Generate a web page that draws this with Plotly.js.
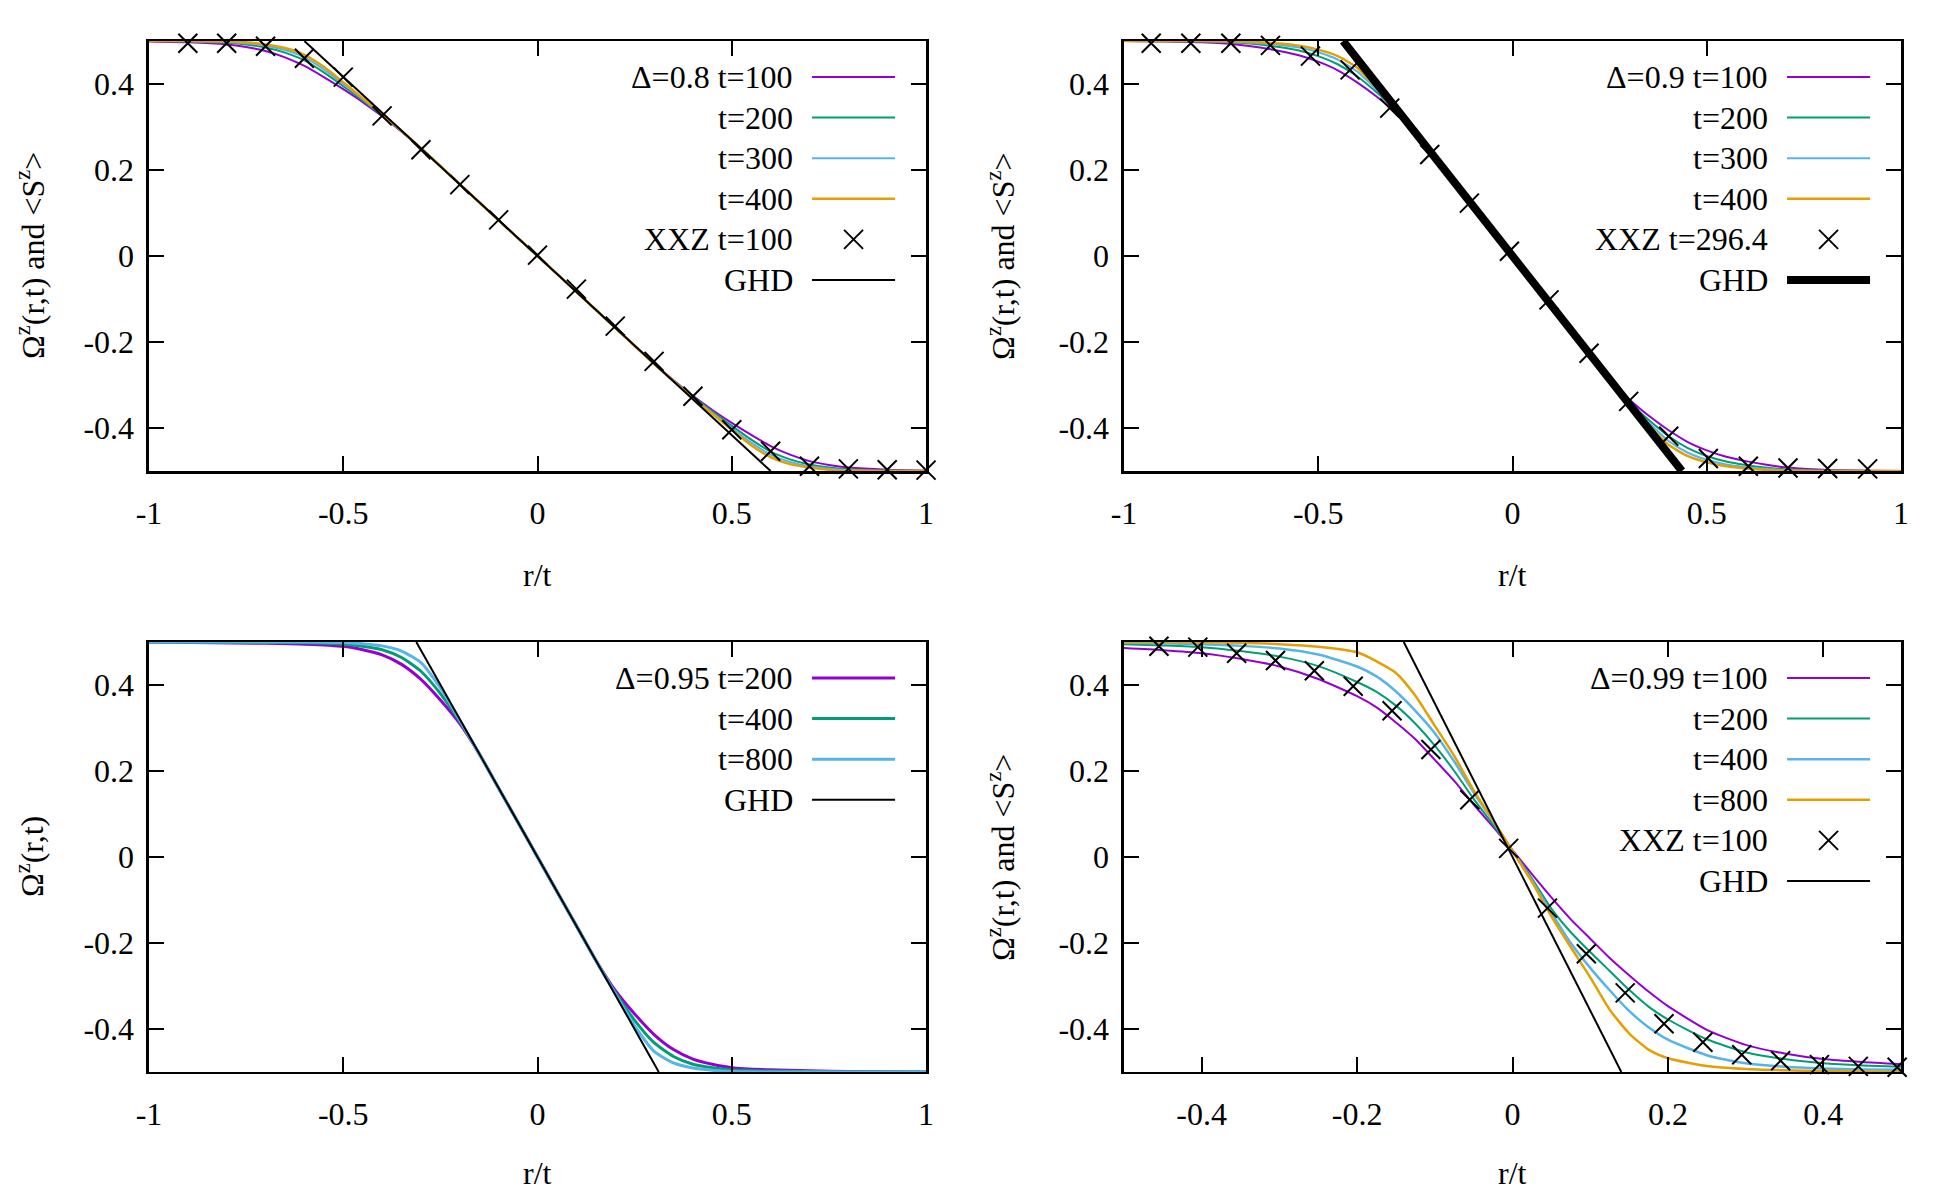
<!DOCTYPE html>
<html>
<head>
<meta charset="utf-8">
<script src="https://cdn.plot.ly/plotly-3.0.1.min.js"></script>
<style>html,body{margin:0;padding:0;background:#fff;}#chart{width:1950px;height:1200px;}</style>
</head>
<body>
<div id="chart"></div>
<script>
// ---------- Panel A : Delta = 0.8 ----------
const xA = [-1, -0.9, -0.8, -0.75, -0.7, -0.65, -0.6, -0.55, -0.5, -0.45, -0.4, -0.35, -0.3, -0.2, -0.1, 0, 0.1, 0.2, 0.3, 0.35, 0.4, 0.45, 0.5, 0.55, 0.6, 0.65, 0.7, 0.75, 0.8, 0.9, 1];
const yA_t100 = [0.499, 0.497, 0.492, 0.486, 0.477, 0.462, 0.442, 0.416, 0.388, 0.358, 0.325, 0.289, 0.25, 0.167, 0.083, 0, -0.083, -0.167, -0.25, -0.289, -0.325, -0.358, -0.388, -0.416, -0.442, -0.462, -0.477, -0.486, -0.492, -0.497, -0.499];
const yA_t200 = [0.5, 0.499, 0.496, 0.492, 0.485, 0.473, 0.455, 0.427, 0.395, 0.362, 0.327, 0.29, 0.251, 0.167, 0.083, 0, -0.083, -0.167, -0.251, -0.29, -0.327, -0.362, -0.395, -0.427, -0.455, -0.473, -0.485, -0.492, -0.496, -0.499, -0.5];
const yA_t300 = [0.5, 0.5, 0.498, 0.495, 0.489, 0.479, 0.462, 0.434, 0.4, 0.365, 0.329, 0.291, 0.251, 0.167, 0.083, 0, -0.083, -0.167, -0.251, -0.291, -0.329, -0.365, -0.4, -0.434, -0.462, -0.479, -0.489, -0.495, -0.498, -0.5, -0.5];
const yA_t400 = [0.5, 0.5, 0.499, 0.497, 0.492, 0.484, 0.468, 0.44, 0.404, 0.367, 0.33, 0.291, 0.251, 0.167, 0.083, 0, -0.083, -0.167, -0.251, -0.291, -0.33, -0.367, -0.404, -0.44, -0.468, -0.484, -0.492, -0.497, -0.499, -0.5, -0.5];
const xA_xxz = [-0.9, -0.8, -0.7, -0.6, -0.5, -0.4, -0.3, -0.2, -0.1, 0, 0.1, 0.2, 0.3, 0.4, 0.5, 0.6, 0.7, 0.8, 0.9, 1.0];
const yA_xxz = [0.495, 0.495, 0.488, 0.46, 0.416, 0.326, 0.247, 0.166, 0.084, 0.002, -0.077, -0.163, -0.245, -0.326, -0.404, -0.454, -0.489, -0.495, -0.497, -0.498];
const xA_ghd = [-0.6, 0.6];
const yA_ghd = [0.5, -0.5];

// ---------- Panel B : Delta = 0.9 ----------
const xB = [-1, -0.8, -0.7, -0.65, -0.6, -0.55, -0.5, -0.45, -0.4, -0.35, -0.3, -0.25, -0.2, -0.1, 0, 0.1, 0.2, 0.25, 0.3, 0.35, 0.4, 0.45, 0.5, 0.55, 0.6, 0.65, 0.7, 0.8, 1];
const yB_t100 = [0.5, 0.497, 0.491, 0.485, 0.477, 0.467, 0.452, 0.432, 0.404, 0.371, 0.333, 0.287, 0.229, 0.115, 0, -0.115, -0.229, -0.287, -0.333, -0.371, -0.404, -0.432, -0.452, -0.467, -0.477, -0.485, -0.491, -0.497, -0.5];
const yB_t200 = [0.5, 0.499, 0.496, 0.492, 0.486, 0.478, 0.465, 0.446, 0.418, 0.381, 0.34, 0.288, 0.229, 0.115, 0, -0.115, -0.229, -0.288, -0.34, -0.381, -0.418, -0.446, -0.465, -0.478, -0.486, -0.492, -0.496, -0.499, -0.5];
const yB_t300 = [0.5, 0.5, 0.498, 0.495, 0.491, 0.485, 0.474, 0.457, 0.429, 0.387, 0.342, 0.288, 0.229, 0.115, 0, -0.115, -0.229, -0.288, -0.342, -0.387, -0.429, -0.457, -0.474, -0.485, -0.491, -0.495, -0.498, -0.5, -0.5];
const yB_t400 = [0.5, 0.5, 0.499, 0.497, 0.494, 0.489, 0.48, 0.465, 0.438, 0.392, 0.343, 0.288, 0.229, 0.115, 0, -0.115, -0.229, -0.288, -0.343, -0.392, -0.438, -0.465, -0.48, -0.489, -0.494, -0.497, -0.499, -0.5, -0.5];
const xB_xxz = [-0.93, -0.828, -0.725, -0.623, -0.52, -0.418, -0.316, -0.213, -0.111, -0.008, 0.094, 0.197, 0.299, 0.402, 0.504, 0.607, 0.709, 0.811, 0.914];
const yB_xxz = [0.495, 0.495, 0.495, 0.49, 0.465, 0.433, 0.344, 0.236, 0.123, 0.011, -0.102, -0.226, -0.338, -0.419, -0.471, -0.489, -0.493, -0.494, -0.495];
const xB_ghd = [-0.436, 0.436];
const yB_ghd = [0.5, -0.5];

// ---------- Panel C : Delta = 0.95 ----------
const xC = [-1, -0.7, -0.6, -0.5, -0.45, -0.4, -0.35, -0.3, -0.25, -0.2, -0.15, -0.1, 0, 0.1, 0.15, 0.2, 0.25, 0.3, 0.35, 0.4, 0.45, 0.5, 0.6, 0.7, 0.8, 1];
const yC_t200 = [0.5, 0.497, 0.495, 0.49, 0.482, 0.47, 0.448, 0.413, 0.365, 0.31, 0.24, 0.16, 0, -0.16, -0.24, -0.31, -0.365, -0.413, -0.448, -0.47, -0.482, -0.49, -0.495, -0.497, -0.499, -0.5];
const yC_t400 = [0.5, 0.499, 0.498, 0.495, 0.49, 0.482, 0.464, 0.432, 0.38, 0.315, 0.24, 0.16, 0, -0.16, -0.24, -0.315, -0.38, -0.432, -0.464, -0.482, -0.49, -0.495, -0.498, -0.499, -0.5, -0.5];
const yC_t800 = [0.5, 0.5, 0.5, 0.499, 0.496, 0.491, 0.479, 0.452, 0.393, 0.318, 0.24, 0.16, 0, -0.16, -0.24, -0.318, -0.393, -0.452, -0.479, -0.491, -0.496, -0.499, -0.5, -0.5, -0.5, -0.5];
const xC_ghd = [-0.312, 0.312];
const yC_ghd = [0.5, -0.5];

// ---------- Panel D : Delta = 0.99 ----------
const xD = [-0.5, -0.45, -0.4, -0.35, -0.3, -0.25, -0.2, -0.175, -0.15, -0.125, -0.1, -0.075, -0.05, -0.025, 0, 0.025, 0.05, 0.075, 0.1, 0.125, 0.15, 0.175, 0.2, 0.25, 0.3, 0.35, 0.4, 0.45, 0.5];
const yD_t100 = [0.486, 0.481, 0.474, 0.461, 0.443, 0.414, 0.374, 0.348, 0.313, 0.274, 0.226, 0.177, 0.122, 0.07, 0.016, -0.04, -0.094, -0.145, -0.19, -0.235, -0.275, -0.313, -0.347, -0.402, -0.437, -0.457, -0.47, -0.477, -0.482];
const yD_t200 = [0.495, 0.492, 0.488, 0.479, 0.466, 0.444, 0.407, 0.384, 0.352, 0.31, 0.259, 0.2, 0.135, 0.075, 0.014, -0.05, -0.12, -0.175, -0.221, -0.265, -0.309, -0.348, -0.378, -0.424, -0.454, -0.47, -0.48, -0.485, -0.488];
const yD_t400 = [0.498, 0.497, 0.495, 0.491, 0.485, 0.471, 0.443, 0.42, 0.385, 0.34, 0.288, 0.222, 0.15, 0.083, 0.014, -0.055, -0.13, -0.2, -0.258, -0.31, -0.358, -0.396, -0.425, -0.461, -0.48, -0.488, -0.492, -0.494, -0.495];
const yD_t800 = [0.5, 0.5, 0.499, 0.498, 0.495, 0.489, 0.476, 0.455, 0.428, 0.375, 0.305, 0.235, 0.155, 0.085, 0.014, -0.058, -0.138, -0.21, -0.28, -0.355, -0.41, -0.448, -0.468, -0.486, -0.493, -0.496, -0.498, -0.499, -0.5];
const xD_xxz = [-0.455, -0.405, -0.355, -0.305, -0.255, -0.205, -0.155, -0.105, -0.055, -0.005, 0.045, 0.095, 0.145, 0.195, 0.245, 0.295, 0.345, 0.395, 0.445, 0.495];
const yD_xxz = [0.49, 0.488, 0.474, 0.457, 0.433, 0.397, 0.34, 0.25, 0.133, 0.02, -0.119, -0.225, -0.316, -0.388, -0.431, -0.46, -0.474, -0.483, -0.487, -0.489];
const xD_ghd = [-0.14, 0.14];
const yD_ghd = [0.5, -0.5];

// ---------- ticks ----------
const xTicksWide = [-1, -0.5, 0, 0.5, 1];
const xTickTextWide = ['-1', '-0.5', '0', '0.5', '1'];
const xTicksNarrow = [-0.4, -0.2, 0, 0.2, 0.4];
const xTickTextNarrow = ['-0.4', '-0.2', '0', '0.2', '0.4'];
const yTicks = [-0.4, -0.2, 0, 0.2, 0.4];
const yTickText = ['-0.4', '-0.2', '0', '0.2', '0.4'];

// ---------- legend labels ----------
const legA = ['\u0394=0.8 t=100', 't=200', 't=300', 't=400', 'XXZ t=100', 'GHD'];
const legB = ['\u0394=0.9 t=100', 't=200', 't=300', 't=400', 'XXZ t=296.4', 'GHD'];
const legC = ['\u0394=0.95 t=200', 't=400', 't=800', 'GHD'];
const legD = ['\u0394=0.99 t=100', 't=200', 't=400', 't=800', 'XXZ t=100', 'GHD'];

const PURPLE = '#9400d3', GREEN = '#009e73', BLUE = '#56b4e9', ORANGE = '#e69f00';
const FONT = 'Liberation Serif, Times New Roman, serif';

function line(x, y, ax, color, width) {
  return {x: x, y: y, xaxis: 'x' + ax, yaxis: 'y' + ax, type: 'scatter', mode: 'lines',
    line: {color: color, width: width, shape: 'spline', smoothing: 0.6}, showlegend: false, hoverinfo: 'skip'};
}
function ghd(x, y, ax, width) {
  return {x: x, y: y, xaxis: 'x' + ax, yaxis: 'y' + ax, type: 'scatter', mode: 'lines',
    line: {color: '#000', width: width}, showlegend: false, hoverinfo: 'skip'};
}
function marks(x, y, ax) {
  return {x: x, y: y, xaxis: 'x' + ax, yaxis: 'y' + ax, type: 'scatter', mode: 'markers', cliponaxis: false,
    marker: {symbol: 'x-thin', size: 19, color: '#000', line: {color: '#000', width: 2}}, showlegend: false, hoverinfo: 'skip'};
}

const traces = [
  line(xA, yA_t100, '', PURPLE, 2), line(xA, yA_t200, '', GREEN, 2), line(xA, yA_t300, '', BLUE, 2), line(xA, yA_t400, '', ORANGE, 2.5),
  marks(xA_xxz, yA_xxz, ''), ghd(xA_ghd, yA_ghd, '', 2),
  line(xB, yB_t100, '2', PURPLE, 2), line(xB, yB_t200, '2', GREEN, 2), line(xB, yB_t300, '2', BLUE, 2), line(xB, yB_t400, '2', ORANGE, 2.5),
  marks(xB_xxz, yB_xxz, '2'), ghd(xB_ghd, yB_ghd, '2', 8),
  line(xC, yC_t200, '3', PURPLE, 3), line(xC, yC_t400, '3', GREEN, 3), line(xC, yC_t800, '3', BLUE, 3),
  ghd(xC_ghd, yC_ghd, '3', 2),
  line(xD, yD_t100, '4', PURPLE, 2), line(xD, yD_t200, '4', GREEN, 2), line(xD, yD_t400, '4', BLUE, 2.5), line(xD, yD_t800, '4', ORANGE, 2.5),
  marks(xD_xxz, yD_xxz, '4'), ghd(xD_ghd, yD_ghd, '4', 2)
];

const colL = [0.0764, 0.4749], colR = [0.5764, 0.9749];
const rowT = [0.6075, 0.9658], rowB = [0.1067, 0.465];

function xax(domain, anchor, range, tv, tt) {
  return {domain: domain, anchor: anchor, range: range, tickvals: tv, ticktext: tt,
    showline: true, mirror: 'ticks', linecolor: '#000', linewidth: 2.5, ticks: 'inside', ticklen: 15, tickwidth: 2,
    tickcolor: '#000', showgrid: false, zeroline: false, ticklabelstandoff: 12,
    tickfont: {family: FONT, size: 32, color: '#000'}, fixedrange: true};
}
function yax(domain, anchor) {
  return {domain: domain, anchor: anchor, range: [-0.5, 0.5], tickvals: yTicks, ticktext: yTickText,
    showline: true, mirror: 'ticks', linecolor: '#000', linewidth: 2.5, ticks: 'inside', ticklen: 15, tickwidth: 2,
    tickcolor: '#000', showgrid: false, zeroline: false, ticklabelstandoff: 6,
    tickfont: {family: FONT, size: 32, color: '#000'}, fixedrange: true};
}

// legend geometry in axis-domain units
const LEG_TEXT_X = 0.8314, LEG_S0 = 0.8533, LEG_S1 = 0.9601, LEG_CX = 0.9067;
const LEG_ROW0 = 0.9163, LEG_DROW = 0.0944;
const annotations = [], shapes = [];

function addLegend(ax, labels, kinds) {
  const xr = 'x' + ax + ' domain', yr = 'y' + ax + ' domain';
  labels.forEach(function (lab, i) {
    const yy = LEG_ROW0 - i * LEG_DROW;
    annotations.push({xref: xr, yref: yr, x: LEG_TEXT_X, y: yy, xanchor: 'right', yanchor: 'middle',
      text: lab, showarrow: false, font: {family: FONT, size: 32, color: '#000'}});
    const k = kinds[i];
    if (k.type === 'line') {
      shapes.push({type: 'line', xref: xr, yref: yr, x0: LEG_S0, x1: LEG_S1, y0: yy, y1: yy,
        line: {color: k.color, width: k.width}});
    } else {
      const dx = 9.5 / 777, dy = 9.5 / 430;
      shapes.push({type: 'line', xref: xr, yref: yr, x0: LEG_CX - dx, x1: LEG_CX + dx, y0: yy - dy, y1: yy + dy, line: {color: '#000', width: 2}});
      shapes.push({type: 'line', xref: xr, yref: yr, x0: LEG_CX - dx, x1: LEG_CX + dx, y0: yy + dy, y1: yy - dy, line: {color: '#000', width: 2}});
    }
  });
}
const L = function (c, w) { return {type: 'line', color: c, width: w}; };
const M = {type: 'marker'};
addLegend('', legA, [L(PURPLE, 2), L(GREEN, 2), L(BLUE, 2), L(ORANGE, 2.5), M, L('#000', 2)]);
addLegend('2', legB, [L(PURPLE, 2), L(GREEN, 2), L(BLUE, 2), L(ORANGE, 2.5), M, L('#000', 8)]);
addLegend('3', legC, [L(PURPLE, 3), L(GREEN, 3), L(BLUE, 3), L('#000', 2)]);
addLegend('4', legD, [L(PURPLE, 2), L(GREEN, 2), L(BLUE, 2.5), L(ORANGE, 2.5), M, L('#000', 2)]);

// axis titles
function title(x, y, text, angle) {
  annotations.push({xref: 'paper', yref: 'paper', x: x, y: y, xanchor: 'center', yanchor: 'middle',
    text: text, textangle: angle, showarrow: false, font: {family: FONT, size: 32, color: '#000'}});
}
const yTitleFull = '\u03A9<sup>z</sup>(r,t) and &lt;S<sup>z</sup>&gt;';
const yTitleShort = '\u03A9<sup>z</sup>(r,t)';
title(0.2756, 0.5208, 'r/t', 0);
title(0.7756, 0.5208, 'r/t', 0);
title(0.2756, 0.0225, 'r/t', 0);
title(0.7756, 0.0225, 'r/t', 0);
title(0.0154, 0.7867, yTitleFull, -90);
title(0.5133, 0.7867, yTitleFull, -90);
title(0.0154, 0.2858, yTitleShort, -90);
title(0.5133, 0.2858, yTitleFull, -90);

const layout = {
  width: 1950, height: 1200, margin: {l: 0, r: 0, t: 0, b: 0},
  paper_bgcolor: '#fff', plot_bgcolor: '#fff', showlegend: false,
  font: {family: FONT, size: 32, color: '#000'},
  xaxis: xax(colL, 'y', [-1, 1], xTicksWide, xTickTextWide),
  yaxis: yax(rowT, 'x'),
  xaxis2: xax(colR, 'y2', [-1, 1], xTicksWide, xTickTextWide),
  yaxis2: yax(rowT, 'x2'),
  xaxis3: xax(colL, 'y3', [-1, 1], xTicksWide, xTickTextWide),
  yaxis3: yax(rowB, 'x3'),
  xaxis4: xax(colR, 'y4', [-0.5, 0.5], xTicksNarrow, xTickTextNarrow),
  yaxis4: yax(rowB, 'x4'),
  annotations: annotations, shapes: shapes
};

Plotly.newPlot('chart', traces, layout, {staticPlot: true, displayModeBar: false});
</script>
</body>
</html>
